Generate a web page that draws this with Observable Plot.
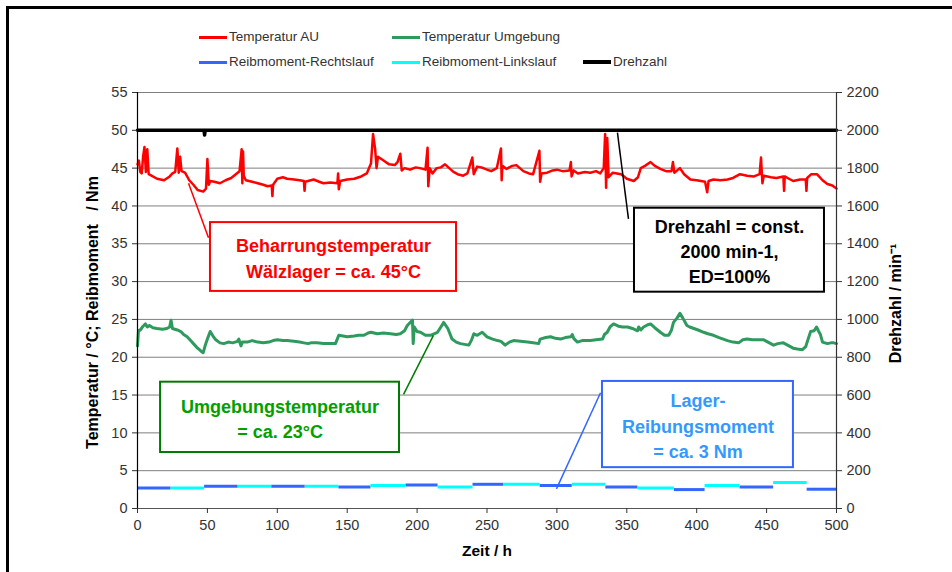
<!DOCTYPE html>
<html><head><meta charset="utf-8">
<script src="https://cdn.jsdelivr.net/npm/d3@7"></script>
<script src="https://cdn.jsdelivr.net/npm/@observablehq/plot@0.6"></script>
<style>
body{margin:0;background:#fff;font-family:"Liberation Sans",Arial,sans-serif;}
#wrap{position:relative;width:952px;height:572px;overflow:hidden;background:#fff;}
#frame{position:absolute;left:6px;top:6px;width:1200px;height:1200px;border:3px solid #000;}
#legend{position:absolute;left:0;top:0;width:952px;height:80px;}
.li{position:absolute;font-size:13.5px;color:#333;display:flex;align-items:center;height:16px;line-height:16px;white-space:nowrap;}
.sw{display:inline-block;width:28px;height:3px;margin-right:2px;}
#chart{position:absolute;left:0;top:80px;}
</style></head>
<body><div id="wrap"><div id="frame"></div><div id="legend"></div><div id="chart"></div></div>
<script>
// Temperatur AU (°C) over Zeit (h)
const tAU = [0,1,2,3,4,5,6,7,8,10,14,19,23,25,27,28.5,29.5,30.5,31.5,34,37,40,43,47,49,50,51,52,55,59,63,67,71,73,74.5,75,75.5,76,77.5,82,86,90,93,96,96.5,97,100,104,107,112,116,119,119.5,120,126,130,133,138,143,143.5,144,145,150,155,160,164,167,168.5,170,171,172,176,180,184,186,188,189,191,195,199,202,206,207.5,208,209,211,214,217,220,223,226,229,233,236,239.5,240.5,243,246,250,253,257,260,260.5,261,264,268,271,276,280,283,287.5,288,289,293,297,300,304,309,310,310.5,312,315,320,324,328,331,333.5,334.5,335.2,336,337,340,343,346,350,355,358,360,363,367,370,374,378,382,383,384,388,391,395.5,400,403,406,407.5,408.5,412,417,422,426,431,436,441,445,446,447,448,453,457,462,462.5,463,466,469,474,478,478.5,479,482,486,490,493.5,497,500];
const vAU = [45.5,46.0,44.5,44.3,46.5,47.8,44.5,47.5,44.2,44.0,43.6,43.4,43.9,44.3,44.5,47.6,44.4,46.5,44.6,44.4,43.4,42.8,42.1,41.9,42.3,46.2,42.8,43.3,43.2,43.0,43.4,43.7,44.3,44.6,47.5,43.0,47.2,44.0,43.4,43.2,43.0,42.8,42.6,42.7,41.3,42.8,43.6,43.8,43.6,43.5,43.4,43.3,42.0,43.2,43.5,43.2,43.0,43.1,43.0,44.3,42.2,43.3,43.5,43.6,43.9,44.3,45.6,49.5,47.5,45.0,46.5,46.0,45.5,45.4,45.8,46.9,44.7,45.0,44.8,45.1,45.0,44.8,47.7,42.6,45.0,44.3,45.0,45.1,45.5,45.0,44.5,44.2,44.0,44.3,46.4,44.2,45.2,45.1,44.8,44.6,45.0,47.6,43.4,45.3,44.9,45.3,45.4,44.6,44.3,44.2,47.3,43.2,44.3,44.4,44.7,44.8,44.6,44.7,45.8,43.9,44.7,44.3,44.5,44.4,44.6,44.3,45.0,49.5,42.4,49.0,43.8,44.4,44.3,44.2,43.6,43.3,43.8,45.0,45.3,45.8,45.3,44.9,44.6,44.6,45.8,44.4,45.0,44.2,43.5,43.4,43.3,43.2,41.8,43.3,43.5,43.4,43.5,43.7,44.2,44.0,43.9,44.2,46.4,43.0,44.0,43.8,43.7,43.9,42.0,43.9,43.6,43.3,43.5,43.5,42.0,43.7,44.2,44.2,43.4,42.9,42.7,42.3];

// Temperatur Umgebung (°C)
const tUmg = [0,0.7,2,4,5.7,7,8.5,11,14,18,21,23,24,25,28.5,31,33,35.5,38,40,43,45.5,47,48.5,50,52,54,56,59,61.7,65,68,71.5,72.5,74,75,78.5,82,86,90,94,97,100,104,107,112,116,119,122,124,128.5,133,138,141.6,144,147,150,155,158,162,165,167,171.5,176,181,185,188,191,193,196.7,197.2,198,200,202.4,206,209.6,214.6,217,219,222,225,228,231,234,237,239,240.6,243,246.6,250,254,257.5,260,263,266,269,274,279,283,287,288,292,295.5,299,302.6,306,310,311,312,314.7,318,324,328,332.6,334,336,338,340.5,344,347,350.5,354,357.7,358.5,360,362,365,367,370,374,377,380,382,383.4,386,388,390,393,395,398,401,405,408,412,416,422,426,430,433,436,440,444,448,451,455,458,462,465,469,472,475.6,478,479,481.5,484,485.7,487,488.5,490,493.5,496,498,500];
const vUmg = [21.5,23.5,23.6,24.1,24.4,24.0,24.2,23.9,23.8,23.7,23.8,24.0,24.9,23.8,23.6,23.4,23.0,22.7,22.2,21.8,21.2,20.8,20.6,21.6,22.4,23.4,22.8,22.3,21.9,21.8,22.0,21.9,22.1,22.4,21.5,22.0,22.0,22.2,22.0,21.9,22.0,22.2,22.3,22.2,22.2,22.1,22.0,21.9,21.8,21.9,21.9,21.8,21.8,21.8,22.9,22.8,22.7,22.8,22.9,22.9,23.2,23.3,23.1,23.2,23.1,23.0,23.1,23.5,24.2,24.9,21.8,24.0,23.4,23.3,22.9,22.9,23.3,24.0,24.6,23.8,22.4,22.0,21.8,21.7,21.6,22.3,23.1,22.9,23.3,22.7,22.4,22.2,22.1,21.6,22.0,22.2,22.1,22.0,21.9,21.8,22.4,22.6,22.7,22.5,22.4,22.6,22.7,23.0,22.5,22.0,22.2,22.2,22.3,22.4,23.0,23.3,24.0,24.4,24.1,24.0,24.0,23.8,23.5,24.0,23.6,24.0,24.3,24.4,23.9,23.3,22.9,22.9,23.6,24.6,25.2,25.8,25.2,24.2,24.0,23.8,23.6,23.3,23.1,22.9,22.6,22.2,22.0,21.9,22.3,22.4,22.3,22.3,22.3,22.0,21.6,21.8,21.9,21.6,21.2,21.1,21.0,21.4,22.0,23.4,23.5,24.0,23.5,23.0,22.0,21.8,21.9,21.9,21.8];

// Reibmoment (Nm): measurement periods
const rechtsStart = [0,48,96,144,192,240,288,335,384,431,479];
const rechtsEnd   = [24,72,120,167,215,262,311,358,406,455,500];
const rechtsVal   = [2.7,2.95,2.95,2.85,3.1,3.2,3.05,2.85,2.5,2.85,2.55];
const linksStart  = [24,72,120,167,215,262,311,358,406,455];
const linksEnd    = [48,96,144,192,240,288,335,384,431,479];
const linksVal    = [2.7,2.95,2.95,3.05,2.85,3.2,3.2,2.7,3.05,3.45];

// Drehzahl (min-1)
const tDZ = [0,47.6,48,48.4,500];
const vDZ = [2000,2000,1975,2000,2000];

const xTicks = [0,50,100,150,200,250,300,350,400,450,500];
const yTicks = [0,5,10,15,20,25,30,35,40,45,50,55];
const rpmPerUnit = 40; // 2200 min-1 <-> 55

const seriesNames = ["Temperatur AU","Temperatur Umgebung","Reibmoment-Rechtslauf","Reibmoment-Linkslauf","Drehzahl"];
const seriesColors = ["#ff0000","#2e9a5e","#3366ff","#00ffff","#000000"];

// annotation boxes (data units)
const boxTexts  = ["Beharrungstemperatur\nWälzlager = ca. 45°C","Drehzahl = const.\n2000 min-1,\nED=100%","Umgebungstemperatur\n= ca. 23°C","Lager-\nReibungsmoment\n= ca. 3 Nm"];
const boxX1 = [52.2,355.5,16.5,332.6];
const boxX2 = [228.2,491.4,187.4,469.2];
const boxY1 = [28.7,28.6,7.4,5.4];
const boxY2 = [37.8,39.7,16.7,16.8];
const boxStroke = ["#ff0000","#000000","#007a00","#3366ff"];
const boxTextColor = ["#ff0000","#000000","#00a000","#3399ff"];
const linkX1 = [36.5,343.3,211.7,331.2];
const linkY1 = [43.0,49.7,22.9,15.3];
const linkX2 = [50.8,351.2,190.3,299.7];
const linkY2 = [35.8,38.3,15.1,2.6];

// legend
const legend = document.getElementById("legend");
const legPos = [[199,29],[392,29],[199,54],[392,54],[583,54]];
seriesNames.forEach((n,i)=>{
  const d = document.createElement("div");
  d.className = "li";
  d.style.left = legPos[i][0]+"px"; d.style.top = legPos[i][1]+"px";
  d.innerHTML = `<span class="sw" style="background:${seriesColors[i]};height:${i===4?4:3}px"></span>${n}`;
  legend.appendChild(d);
});

const marks = [
  Plot.gridY(yTicks,{stroke:"#7f7f7f",strokeOpacity:1,strokeWidth:1}),
  Plot.ruleY(rechtsVal,{x1:rechtsStart,x2:rechtsEnd,y:rechtsVal,stroke:seriesColors[2],strokeWidth:3}),
  Plot.ruleY(linksVal,{x1:linksStart,x2:linksEnd,y:linksVal,stroke:seriesColors[3],strokeWidth:3}),
  Plot.line(vUmg,{x:tUmg,y:vUmg,stroke:seriesColors[1],strokeWidth:3,strokeLinejoin:"round"}),
  Plot.line(vAU,{x:tAU,y:vAU,stroke:seriesColors[0],strokeWidth:2.5,strokeLinejoin:"round"}),
  Plot.line(vDZ,{x:tDZ,y:vDZ.map(v=>v/rpmPerUnit),stroke:"#000",strokeWidth:3.5}),
  Plot.ruleX([0],{stroke:"#000",strokeWidth:1.2}),
  Plot.ruleX([500],{stroke:"#333",strokeWidth:1.2}),
  Plot.ruleY([0],{stroke:"#555",strokeWidth:1.2}),
  Plot.axisY(yTicks,{anchor:"left",tickSize:5,tickPadding:5,label:null,stroke:"#333",fill:"#333",fontSize:14.5}),
  Plot.axisY(yTicks,{anchor:"right",tickSize:5,tickPadding:5,label:null,tickFormat:d=>String(d*rpmPerUnit),stroke:"#333",fill:"#333",fontSize:14.5}),
  Plot.axisX(xTicks,{tickSize:5,tickPadding:6,label:null,stroke:"#333",fill:"#333",fontSize:14.5}),
  Plot.text(["Temperatur / °C; Reibmoment\u00a0\u00a0\u00a0/ Nm"],{frameAnchor:"left",textAnchor:"middle",rotate:-90,dx:-45,dy:12,fontWeight:"bold",fontSize:16,fill:"#000"}),
  Plot.text(["Drehzahl / min⁻¹"],{frameAnchor:"right",textAnchor:"middle",rotate:-90,dx:59,dy:3,fontWeight:"bold",fontSize:16,fill:"#000"}),
  Plot.text(["Zeit / h"],{frameAnchor:"bottom",dy:47,fontWeight:"bold",fontSize:15.5,fill:"#000"})
];
boxTexts.forEach((t,i)=>{
  marks.push(Plot.link([i],{x1:[linkX1[i]],y1:[linkY1[i]],x2:[linkX2[i]],y2:[linkY2[i]],stroke:boxStroke[i],strokeWidth:1.5}));
  marks.push(Plot.rect([i],{x1:[boxX1[i]],x2:[boxX2[i]],y1:[boxY1[i]],y2:[boxY2[i]],fill:"#fff",stroke:boxStroke[i],strokeWidth:2}));
  marks.push(Plot.text([t],{x:[(boxX1[i]+boxX2[i])/2],y:[(boxY1[i]+boxY2[i])/2],fill:boxTextColor[i],fontWeight:"bold",fontSize:18,lineHeight:1.4}));
});

const chart = Plot.plot({
  width:952, height:492,
  marginLeft:137, marginRight:116, marginTop:12, marginBottom:64,
  style:{fontFamily:"'Liberation Sans', Arial, sans-serif",fontSize:"14px",color:"#333",background:"transparent",overflow:"visible"},
  x:{domain:[0,500]},
  y:{domain:[0,55]},
  marks
});
document.getElementById("chart").appendChild(chart);
</script>
</body></html>
